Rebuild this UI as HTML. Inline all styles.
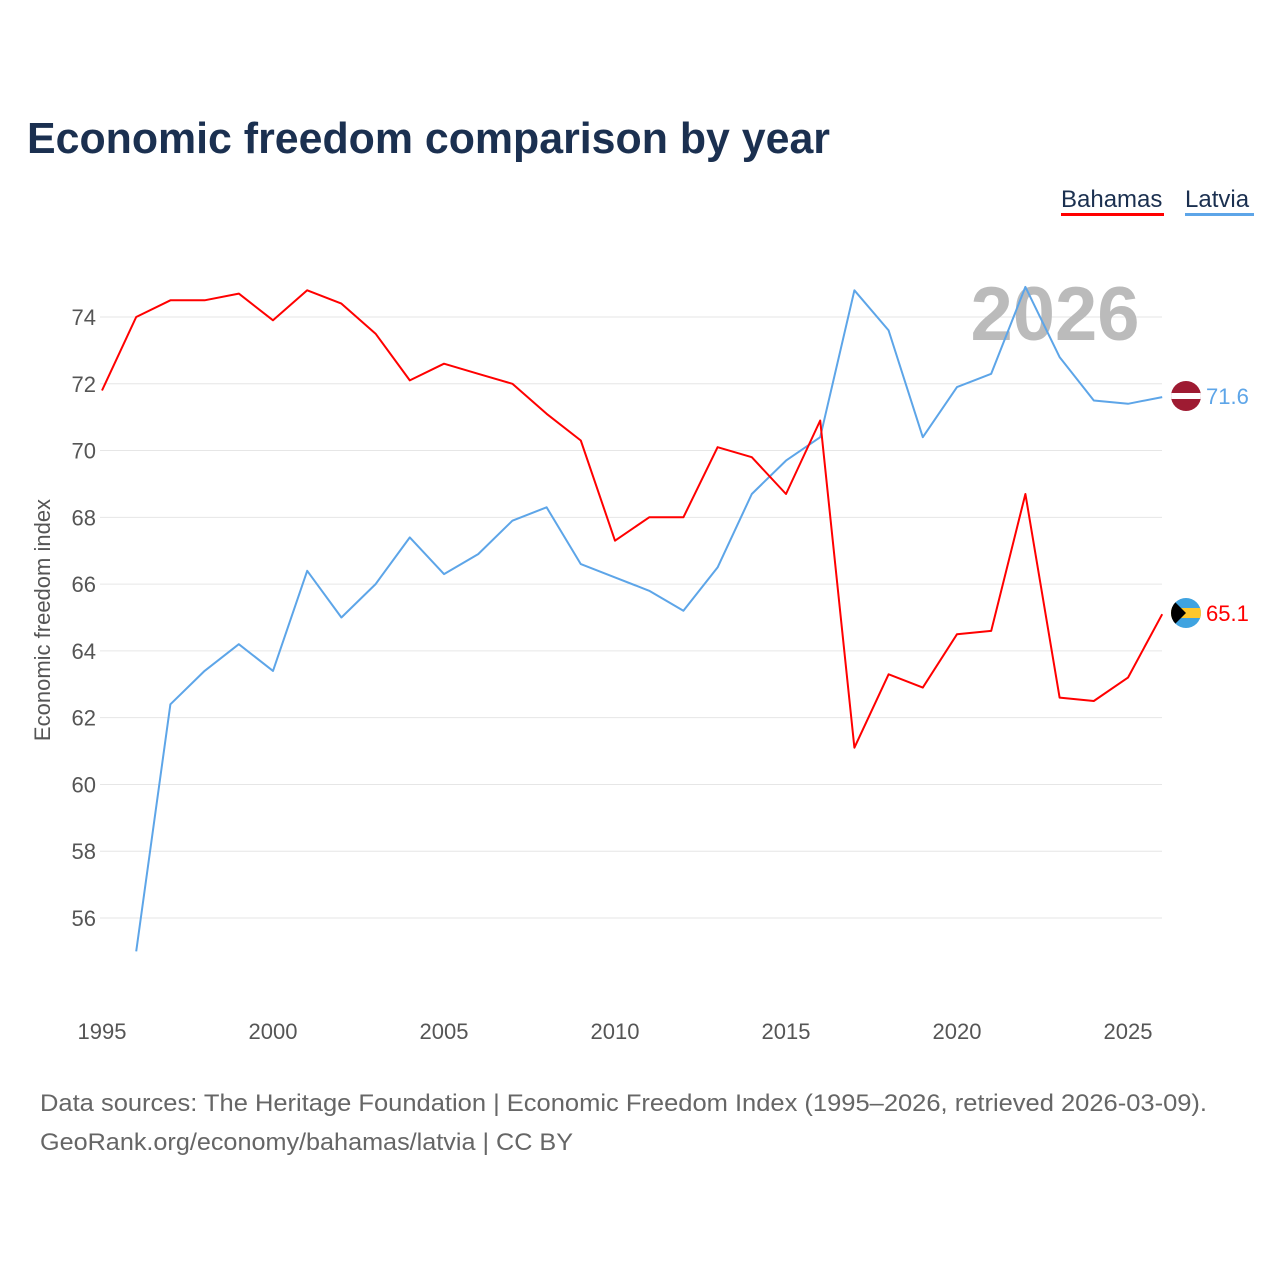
<!DOCTYPE html>
<html><head><meta charset="utf-8"><style>
body{margin:0;background:#fff;font-family:"Liberation Sans",sans-serif}
svg text{font-family:"Liberation Sans",sans-serif}
</style></head><body>
<svg id="c" width="1280" height="1280" viewBox="0 0 1280 1280" xmlns="http://www.w3.org/2000/svg">
<text x="27" y="153" font-size="44" font-weight="bold" fill="#1b3050" textLength="803" lengthAdjust="spacingAndGlyphs">Economic freedom comparison by year</text>
<g>
<text x="1061" y="207" font-size="24" fill="#1b3050">Bahamas</text>
<rect x="1061" y="213" width="103" height="3" fill="#ff0000"/>
<text x="1185" y="207" font-size="24" fill="#1b3050">Latvia</text>
<rect x="1185" y="213" width="69" height="3" fill="#5da5e8"/>
</g>
<g id="grid"></g>
<g id="yt"></g>
<g id="xt"></g>
<text x="1055" y="340" font-size="76" font-weight="bold" fill="#bbbbbb" text-anchor="middle">2026</text>
<text transform="translate(50,620) rotate(-90)" font-size="22" fill="#555" text-anchor="middle">Economic freedom index</text>
<g id="series"></g>
<g>
<clipPath id="cl"><circle cx="1186" cy="396" r="15"/></clipPath>
<g clip-path="url(#cl)"><rect x="1170" y="380" width="32" height="32" fill="#9e1b32"/><rect x="1170" y="393" width="32" height="6" fill="#fff"/></g>
</g>
<g>
<clipPath id="cb"><circle cx="1186" cy="613" r="15"/></clipPath>
<g clip-path="url(#cb)"><rect x="1170" y="597" width="32" height="32" fill="#3fa3e0"/><rect x="1170" y="608" width="32" height="10" fill="#ffc72c"/><polygon points="1170,597 1186,613 1170,629" fill="#000"/></g>
</g>
<text id="lv" x="1206" y="404" font-size="22" fill="#5da5e8"></text>
<text id="bv" x="1206" y="621" font-size="22" fill="#ff0000"></text>
<text x="40" y="1111" font-size="24" fill="#666" textLength="1167" lengthAdjust="spacingAndGlyphs">Data sources: The Heritage Foundation | Economic Freedom Index (1995–2026, retrieved 2026-03-09).</text>
<text x="40" y="1150" font-size="24" fill="#666" textLength="533" lengthAdjust="spacingAndGlyphs">GeoRank.org/economy/bahamas/latvia | CC BY</text>
</svg>
<script>
const years=[1995,1996,1997,1998,1999,2000,2001,2002,2003,2004,2005,2006,2007,2008,2009,2010,2011,2012,2013,2014,2015,2016,2017,2018,2019,2020,2021,2022,2023,2024,2025,2026];
const bahamas=[71.8,74.0,74.5,74.5,74.7,73.9,74.8,74.4,73.5,72.1,72.6,72.3,72.0,71.1,70.3,67.3,68.0,68.0,70.1,69.8,68.7,70.9,61.1,63.3,62.9,64.5,64.6,68.7,62.6,62.5,63.2,65.1];
const latvia=[null,55.0,62.4,63.4,64.2,63.4,66.4,65.0,66.0,67.4,66.3,66.9,67.9,68.3,66.6,66.2,65.8,65.2,66.5,68.7,69.7,70.4,74.8,73.6,70.4,71.9,72.3,74.9,72.8,71.5,71.4,71.6];
const yTicks=[56,58,60,62,64,66,68,70,72,74];
const xTicks=[1995,2000,2005,2010,2015,2020,2025];
const NS="http://www.w3.org/2000/svg";
const x=v=>102+(v-1995)*34.2;
const y=v=>317+(74-v)*33.39;
function mk(t,a,p){const e=document.createElementNS(NS,t);for(const k in a)e.setAttribute(k,a[k]);p.appendChild(e);return e;}
const grid=document.getElementById('grid'),yt=document.getElementById('yt'),xt=document.getElementById('xt'),ser=document.getElementById('series');
yTicks.forEach(v=>{
 const l=mk('line',{x1:100,x2:1162,y1:y(v),y2:y(v),stroke:'#e6e6e6','stroke-width':1},grid);
 
 
 const t=mk('text',{x:96,y:y(v)+8,'font-size':22,fill:'#555','text-anchor':'end'},yt);
 t.textContent=v;
 
 
});
xTicks.forEach(v=>{
 const t=mk('text',{x:x(v),y:1039,'font-size':22,fill:'#555','text-anchor':'middle'},xt);
 t.textContent=v;
 
 
});
function line(vals,col,name){
 const pts=[];vals.forEach((v,i)=>{if(v!=null)pts.push(x(years[i]).toFixed(1)+','+y(v).toFixed(1));});
 const p=mk('polyline',{points:pts.join(' '),fill:'none',stroke:col,'stroke-width':2,'stroke-linejoin':'round'},ser);
 
 
}
line(latvia,'#5da5e8','latvia-line');
line(bahamas,'#ff0000','bahamas-line');
document.getElementById('lv').textContent=latvia[latvia.length-1].toFixed(1);
document.getElementById('bv').textContent=bahamas[bahamas.length-1].toFixed(1);
</script>
</body></html>
